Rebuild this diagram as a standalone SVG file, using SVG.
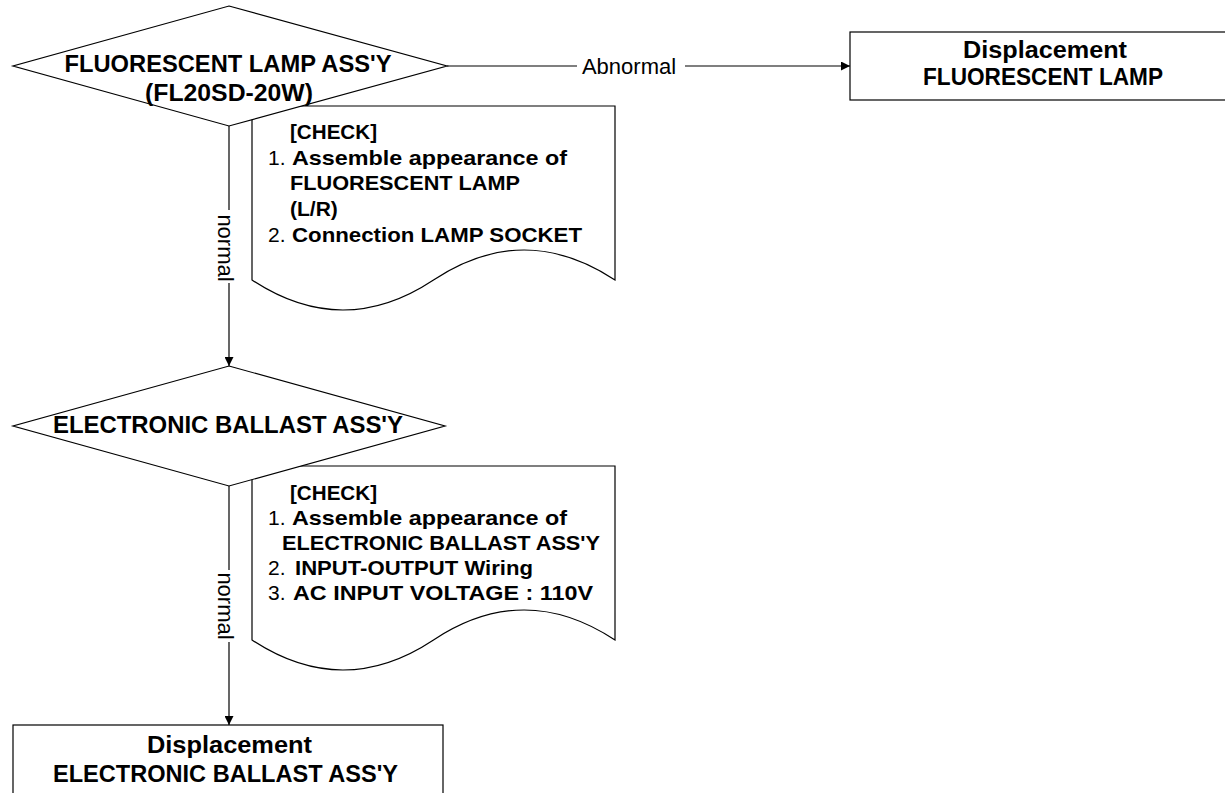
<svg xmlns="http://www.w3.org/2000/svg" width="1225" height="793" viewBox="0 0 1225 793">
  <defs>
    <marker id="arrow" viewBox="0 0 10 10" refX="10" refY="5" markerWidth="9" markerHeight="9" markerUnits="userSpaceOnUse" orient="auto">
      <path d="M0,0 L10,5 L0,10 Z" fill="#000"/>
    </marker>
    <style>
      .shape{fill:#fff;stroke:#000;stroke-width:1.2}
      .edge{fill:none;stroke:#000;stroke-width:1.2}
      .b{font-family:"Liberation Sans",Arial,sans-serif;font-weight:bold;fill:#000}
      .bc{font-family:"Liberation Sans",Arial,sans-serif;font-weight:bold;fill:#000;text-anchor:middle}
      .r{font-family:"Liberation Sans",Arial,sans-serif;fill:#000}
      .lbl{font-family:"Liberation Sans",Arial,sans-serif;fill:#000;font-size:22px;text-anchor:middle}
    </style>
  </defs>
  <rect width="1225" height="793" fill="#fff"/>

  <!-- check note for the lamp assembly -->
  <g id="note-lamp">
    <path class="shape" d="M252,106 H615 V280 Q524,220 433.5,280 Q343,340 252,280 Z"/>
    <text class="b" x="290" y="139" font-size="21" textLength="87" lengthAdjust="spacingAndGlyphs">[CHECK]</text>
    <text class="r" x="268" y="165" font-size="21">1.</text>
    <text class="b" x="292" y="165" font-size="21" textLength="275" lengthAdjust="spacingAndGlyphs">Assemble appearance of</text>
    <text class="b" x="290" y="190" font-size="21" textLength="230" lengthAdjust="spacingAndGlyphs">FLUORESCENT LAMP</text>
    <text class="b" x="290" y="216" font-size="21">(L/R)</text>
    <text class="r" x="268" y="242" font-size="21">2.</text>
    <text class="b" x="292" y="242" font-size="21" textLength="290" lengthAdjust="spacingAndGlyphs">Connection LAMP SOCKET</text>
  </g>

  <!-- check note for the ballast assembly -->
  <g id="note-ballast">
    <path class="shape" d="M252,466 H615 V640 Q524,580 433.5,640 Q343,700 252,640 Z"/>
    <text class="b" x="290" y="500" font-size="21" textLength="87" lengthAdjust="spacingAndGlyphs">[CHECK]</text>
    <text class="r" x="268" y="525" font-size="21">1.</text>
    <text class="b" x="292" y="525" font-size="21" textLength="275" lengthAdjust="spacingAndGlyphs">Assemble appearance of</text>
    <text class="b" x="282" y="550" font-size="21" textLength="318" lengthAdjust="spacingAndGlyphs">ELECTRONIC BALLAST ASS'Y</text>
    <text class="r" x="268" y="575" font-size="21">2.</text>
    <text class="b" x="295" y="575" font-size="21" textLength="238" lengthAdjust="spacingAndGlyphs">INPUT-OUTPUT Wiring</text>
    <text class="r" x="268" y="600" font-size="21">3.</text>
    <text class="b" x="293" y="600" font-size="21" textLength="300" lengthAdjust="spacingAndGlyphs">AC INPUT VOLTAGE : 110V</text>
  </g>

  <!-- decision: lamp assembly -->
  <g id="decision-lamp">
    <polygon class="shape" points="229,6 447,66 229,126 13,66"/>
    <text class="bc" x="228" y="72" font-size="24" textLength="327" lengthAdjust="spacingAndGlyphs">FLUORESCENT LAMP ASS'Y</text>
    <text class="bc" x="229" y="101" font-size="24" textLength="168" lengthAdjust="spacingAndGlyphs">(FL20SD-20W)</text>
  </g>

  <!-- decision: ballast assembly -->
  <g id="decision-ballast">
    <polygon class="shape" points="229,366 445,426 229,486 13,426"/>
    <text class="bc" x="228" y="433" font-size="24" textLength="350" lengthAdjust="spacingAndGlyphs">ELECTRONIC BALLAST ASS'Y</text>
  </g>

  <!-- action: replace lamp -->
  <g id="replace-lamp">
    <rect class="shape" x="850" y="32" width="400" height="68"/>
    <text class="bc" x="1045" y="58" font-size="23" textLength="164" lengthAdjust="spacingAndGlyphs">Displacement</text>
    <text class="bc" x="1043" y="85" font-size="23" textLength="240" lengthAdjust="spacingAndGlyphs">FLUORESCENT LAMP</text>
  </g>

  <!-- action: replace ballast -->
  <g id="replace-ballast">
    <rect class="shape" x="13" y="725" width="430" height="90"/>
    <text class="bc" x="229.5" y="753" font-size="23" textLength="165" lengthAdjust="spacingAndGlyphs">Displacement</text>
    <text class="bc" x="225.5" y="782" font-size="23" textLength="345" lengthAdjust="spacingAndGlyphs">ELECTRONIC BALLAST ASS'Y</text>
  </g>

  <!-- connectors -->
  <g id="connectors">
    <line class="edge" x1="447" y1="66" x2="577" y2="66"/>
    <line class="edge" x1="685" y1="66" x2="850" y2="66" marker-end="url(#arrow)"/>
    <text class="lbl" x="629" y="74">Abnormal</text>

    <line class="edge" x1="229" y1="126" x2="229" y2="210"/>
    <line class="edge" x1="229" y1="283" x2="229" y2="366" marker-end="url(#arrow)"/>
    <text class="lbl" transform="translate(218,248) rotate(90)">normal</text>

    <line class="edge" x1="229" y1="486" x2="229" y2="570"/>
    <line class="edge" x1="229" y1="642" x2="229" y2="725" marker-end="url(#arrow)"/>
    <text class="lbl" transform="translate(218,606) rotate(90)">normal</text>
  </g>
</svg>
